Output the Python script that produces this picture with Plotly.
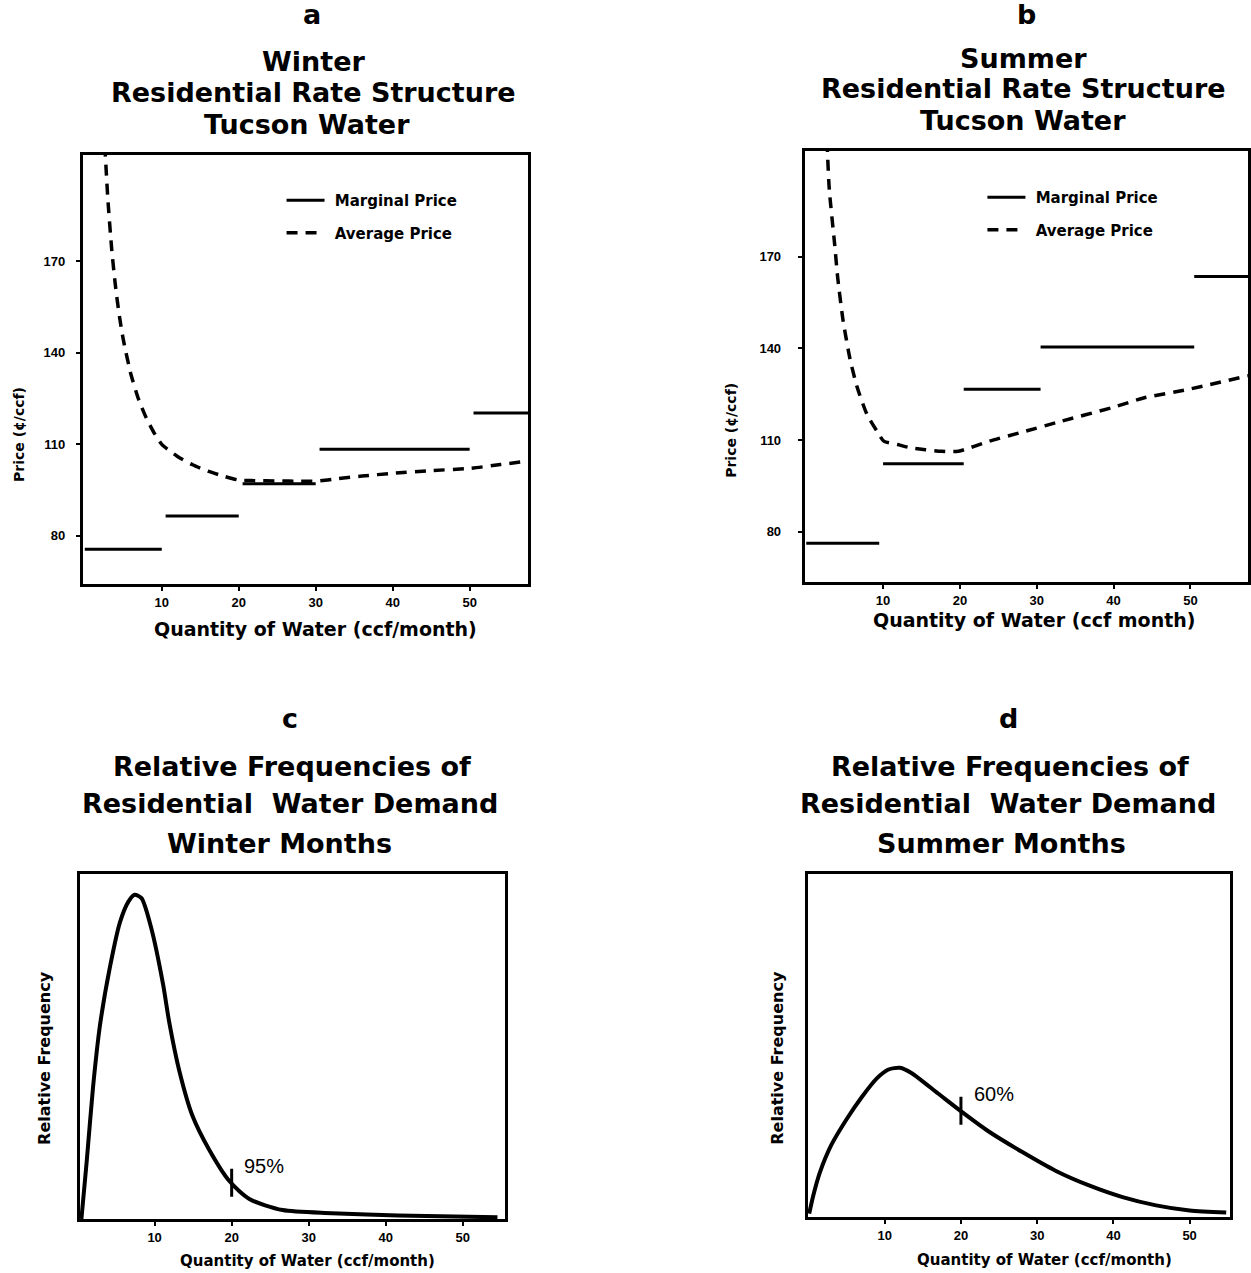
import plotly.graph_objects as go

W, H = 1251, 1273

# ---------------- data ----------------
# Marginal price tiers (cents/ccf)
winter_tier_start = [0, 10.5, 20.5, 30.5, 50.5]
winter_tier_end = [10, 20, 30, 50, 57.6]
winter_tier_price = [75.6, 86.5, 97.1, 108.4, 120.3]

summer_tier_start = [0, 10, 20.5, 30.5, 50.5]
summer_tier_end = [9.5, 20.5, 30.5, 50.5, 57.5]
summer_tier_price = [76.2, 102.2, 126.6, 140.4, 163.5]

# Average price curves (cents/ccf)
winter_avg_q = [2.6, 3, 3.5, 4, 4.5, 5, 6, 7, 8, 9, 10, 12, 14, 16, 18, 20, 22, 25, 28, 30, 33, 36, 40, 45, 50, 54, 57.6]
winter_avg_p = [208, 190.3, 173.9, 161.6, 152, 144.4, 132.9, 124.7, 118.6, 113.8, 110, 106.1, 103.3, 101.2, 99.6, 98.3,
                98.1, 98.0, 97.9, 97.9, 98.8, 99.6, 100.5, 101.4, 102.1, 103.4, 104.5]

summer_avg_q = [2.7, 3.0, 3.7, 4.1, 4.8, 5.7, 6.6, 7.9, 9.2, 10.1, 11.9, 13.6, 15.5, 17.6, 19.8, 23.8, 28.6, 33, 39.7, 44, 49.8, 57.5]
summer_avg_p = [208, 192, 174, 163, 149, 136.5, 127.5, 118.4, 112.9, 109.6, 108.5, 107.4, 106.8, 106.3, 106.3, 109.6,
                112.9, 116, 120.5, 123.8, 126.6, 131]

# Relative frequency curves
winter_q = [0.5, 1.2, 2.0, 2.9, 4.2, 5.5, 6.6, 7.4, 8.3, 9.6, 11.1, 11.9, 13.2, 14.9, 17.1, 19.7, 22.3, 26.6, 33, 41.6, 54.5]
winter_f = [0.0, 0.17, 0.38, 0.56, 0.73, 0.86, 0.92, 0.94, 0.93, 0.84, 0.68, 0.57, 0.43, 0.30, 0.20, 0.11, 0.058, 0.026,
            0.017, 0.01, 0.005]
summer_q = [0.1, 0.6, 1.5, 3.0, 5.0, 7.0, 9.0, 10.5, 12.0, 13.5, 17.0, 19.9, 23.6, 28.0, 32.4, 36.8, 41.2, 45.6, 50.0, 54.8]
summer_f = [0.01, 0.06, 0.13, 0.21, 0.285, 0.35, 0.405, 0.43, 0.435, 0.42, 0.36, 0.31, 0.25, 0.19, 0.135, 0.092, 0.058,
            0.034, 0.019, 0.013]

# Percentile marks
winter_pct = dict(q=20, f=0.105, label="95%")
summer_pct = dict(q=20, f=0.31, label="60%")

x_ticks = [10, 20, 30, 40, 50]
price_ticks = [80, 110, 140, 170]


def px_x(v):
    return v / W


def px_y(v):
    return 1 - v / H


def segs(starts, ends, prices):
    xs, ys = [], []
    for s, e, p in zip(starts, ends, prices):
        xs += [s, e, None]
        ys += [p, p, None]
    return xs, ys


NB = "\u00a0"
fig = go.Figure()

# panel a
xs, ys = segs(winter_tier_start, winter_tier_end, winter_tier_price)
fig.add_trace(go.Scatter(x=xs, y=ys, mode="lines", line=dict(color="black", width=3),
                         name=NB + "Marginal Price", xaxis="x", yaxis="y", legend="legend", legendgroup="a1"))
fig.add_trace(go.Scatter(x=winter_avg_q, y=winter_avg_p, mode="lines",
                         line=dict(color="black", width=3.5, dash="11px,8px", shape="spline", smoothing=0.6),
                         name=NB + "Average Price", xaxis="x", yaxis="y", legend="legend", legendgroup="a2"))
# panel b
xs, ys = segs(summer_tier_start, summer_tier_end, summer_tier_price)
fig.add_trace(go.Scatter(x=xs, y=ys, mode="lines", line=dict(color="black", width=3),
                         name=NB + "Marginal Price", xaxis="x2", yaxis="y2", legend="legend2", legendgroup="b1"))
fig.add_trace(go.Scatter(x=summer_avg_q, y=summer_avg_p, mode="lines",
                         line=dict(color="black", width=3.5, dash="11px,8px", shape="spline", smoothing=0.6),
                         name=NB + "Average Price", xaxis="x2", yaxis="y2", legend="legend2", legendgroup="b2"))
# panel c
fig.add_trace(go.Scatter(x=winter_q, y=winter_f, mode="lines",
                         line=dict(color="black", width=4, shape="spline", smoothing=0.7),
                         showlegend=False, xaxis="x3", yaxis="y3"))
fig.add_trace(go.Scatter(x=[winter_pct["q"]], y=[winter_pct["f"]], mode="markers",
                         marker=dict(symbol="line-ns-open", size=20, color="black", line=dict(color="black", width=3)),
                         showlegend=False, xaxis="x3", yaxis="y3"))
# panel d
fig.add_trace(go.Scatter(x=summer_q, y=summer_f, mode="lines",
                         line=dict(color="black", width=4, shape="spline", smoothing=0.7),
                         showlegend=False, xaxis="x4", yaxis="y4"))
fig.add_trace(go.Scatter(x=[summer_pct["q"]], y=[summer_pct["f"]], mode="markers",
                         marker=dict(symbol="line-ns-open", size=20, color="black", line=dict(color="black", width=3)),
                         showlegend=False, xaxis="x4", yaxis="y4"))

tickfont = dict(family="Liberation Sans", size=13, color="black", weight="bold")
axis_common = dict(showline=True, linewidth=3, linecolor="black", mirror=True, showgrid=False, zeroline=False,
                   ticks="outside", ticklen=4, tickwidth=2, tickcolor="black", tickfont=tickfont)
yfreq_common = {k: v for k, v in axis_common.items() if k != "ticks"}

layout = dict(
    width=W, height=H, margin=dict(l=0, r=0, t=0, b=0),
    paper_bgcolor="white", plot_bgcolor="white",
    xaxis=dict(domain=[px_x(83), px_x(529)], range=[-0.25, 57.6], tickvals=x_ticks, anchor="y", **axis_common),
    yaxis=dict(domain=[px_y(584), px_y(155)], range=[64.2, 204.9], tickvals=price_ticks, anchor="x",
               ticklabelstandoff=8, **axis_common),
    xaxis2=dict(domain=[px_x(806), px_x(1250)], range=[-0.2, 57.5], tickvals=x_ticks, anchor="y2", **axis_common),
    yaxis2=dict(domain=[px_y(582), px_y(151)], range=[63.5, 204.6], tickvals=price_ticks, anchor="x2",
                ticklabelstandoff=14, **axis_common),
    xaxis3=dict(domain=[px_x(80), px_x(506)], range=[0.3, 55.5], tickvals=x_ticks, anchor="y3", **axis_common),
    yaxis3=dict(domain=[px_y(1219), px_y(874)], range=[0, 1], showticklabels=False, anchor="x3",
                ticks="", **yfreq_common),
    xaxis4=dict(domain=[px_x(809), px_x(1232)], range=[-0.1, 55.3], tickvals=x_ticks, anchor="y4", **axis_common),
    yaxis4=dict(domain=[px_y(1217), px_y(874)], range=[0, 1], showticklabels=False, anchor="x4",
                ticks="", **yfreq_common),
    legend=dict(x=px_x(282), y=px_y(184), xanchor="left", yanchor="top", bgcolor="rgba(0,0,0,0)",
                font=dict(family="DejaVu Sans", size=15, color="black", weight="bold"), tracegroupgap=10, itemwidth=38),
    legend2=dict(x=px_x(984), y=px_y(181), xanchor="left", yanchor="top", bgcolor="rgba(0,0,0,0)",
                 font=dict(family="DejaVu Sans", size=15, color="black", weight="bold"), tracegroupgap=10, itemwidth=38),
)
fig.update_layout(**layout)

title_font = dict(family="DejaVu Sans", size=27, color="black", weight="bold")


def ann(text, x, y, font, **kw):
    fig.add_annotation(text=text, x=px_x(x), y=px_y(y), xref="paper", yref="paper", showarrow=False,
                       xanchor="center", yanchor="middle", font=font, **kw)


# panel a titles
ann("a", 312, 14, title_font)
ann("Winter", 314, 61, title_font)
ann("Residential Rate Structure", 314, 92, title_font)
ann("Tucson Water", 307, 125, title_font)
# panel b titles
ann("b", 1028, 14, title_font)
ann("Summer", 1025, 58, title_font)
ann("Residential Rate Structure", 1025, 88, title_font)
ann("Tucson Water", 1025, 121, title_font)
# panel c titles
ann("c", 290, 718, title_font)
ann("Relative Frequencies of", 292, 766, title_font)
ann("Residential  Water Demand", 290, 803, title_font)
ann("Winter Months", 280, 843, title_font)
# panel d titles
ann("d", 1010, 718, title_font)
ann("Relative Frequencies of", 1012, 766, title_font)
ann("Residential  Water Demand", 1010, 803, title_font)
ann("Summer Months", 1003, 843, title_font)

axt_font = dict(family="DejaVu Sans", size=19, color="black", weight="bold")
ann("Quantity of Water (ccf/month)", 316, 629, axt_font)
ann("Quantity of Water (ccf month)", 1036, 620, axt_font)
small_font = dict(family="DejaVu Sans", size=14, color="black", weight="bold")
ann("Price (¢/ccf)", 19, 434, small_font, textangle=-90)
ann("Price (¢/ccf)", 732, 430, small_font, textangle=-90)

axt2_font = dict(family="DejaVu Sans", size=15, color="black", weight="bold")
ann("Quantity of Water (ccf/month)", 308, 1261, axt2_font)
ann("Quantity of Water (ccf/month)", 1046, 1260, axt2_font)
freq_font = dict(family="DejaVu Sans", size=16, color="black", weight="bold")
ann("Relative Frequency", 44, 1058, freq_font, textangle=-90)
ann("Relative Frequency", 778, 1058, freq_font, textangle=-90)

pct_font = dict(family="Liberation Sans", size=20, color="black")
fig.add_annotation(text=winter_pct["label"], x=winter_pct["q"] + 1.4, y=winter_pct["f"] + 0.05, xref="x3", yref="y3",
                   showarrow=False, xanchor="left", yanchor="middle", font=pct_font)
fig.add_annotation(text=summer_pct["label"], x=summer_pct["q"] + 1.5, y=summer_pct["f"] + 0.05, xref="x4", yref="y4",
                   showarrow=False, xanchor="left", yanchor="middle", font=pct_font)

fig.write_html("out.html", config={"displayModeBar": False},
               post_script="document.body.style.margin='0';document.body.style.overflow='hidden';")
